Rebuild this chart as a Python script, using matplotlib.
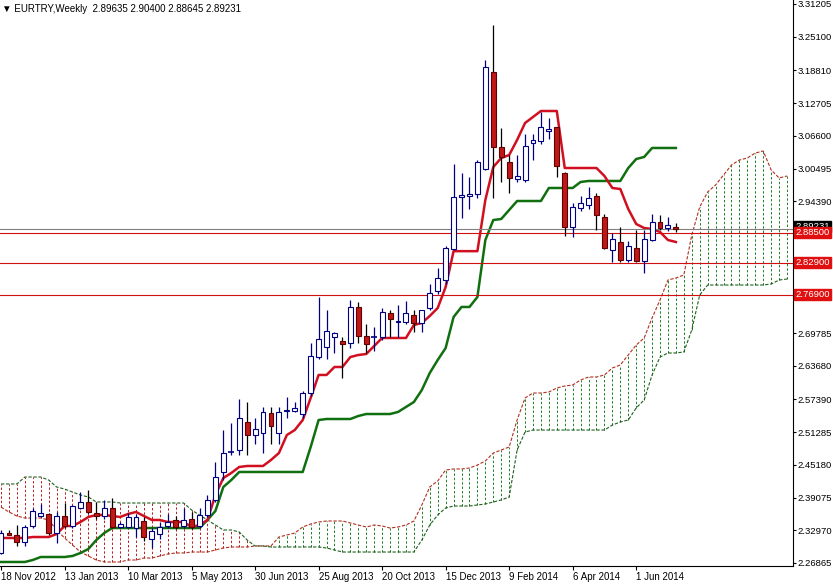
import matplotlib
matplotlib.use("Agg")
import matplotlib.pyplot as plt

plt.rcParams["font.family"] = ["Liberation Sans", "DejaVu Sans"]

# weekly EURTRY candles, first bar = week of 18 Nov 2012
opens = [2.288, 2.325, 2.321, 2.308, 2.338, 2.356, 2.360, 2.325, 2.356, 2.337,
         2.371, 2.382, 2.362, 2.356, 2.371, 2.336, 2.336, 2.334, 2.347, 2.313,
         2.323, 2.338, 2.349, 2.338, 2.351, 2.338, 2.358, 2.386, 2.438, 2.474,
         2.480, 2.532, 2.507, 2.511, 2.548, 2.511, 2.553, 2.552, 2.547, 2.586,
         2.653, 2.672, 2.691, 2.683, 2.679, 2.746, 2.692, 2.689, 2.691, 2.735,
         2.718, 2.718, 2.731, 2.716, 2.745, 2.776, 2.797, 2.855, 2.952, 2.953,
         2.957, 3.004, 3.185, 3.045, 3.017, 2.985, 2.984, 3.052, 3.056, 3.075,
         3.082, 2.997, 2.896, 2.931, 2.937, 2.953, 2.914, 2.853, 2.868, 2.834,
         2.857, 2.832, 2.871, 2.905, 2.893, 2.89635]
highs = [2.330, 2.330, 2.340, 2.340, 2.371, 2.379, 2.362, 2.364, 2.380, 2.377,
         2.401, 2.405, 2.382, 2.386, 2.390, 2.345, 2.362, 2.360, 2.354, 2.334,
         2.345, 2.360, 2.356, 2.371, 2.364, 2.371, 2.395, 2.457, 2.517, 2.530,
         2.575, 2.570, 2.540, 2.560, 2.560, 2.560, 2.578, 2.570, 2.590, 2.680,
         2.765, 2.740, 2.700, 2.690, 2.760, 2.755, 2.715, 2.710, 2.745, 2.740,
         2.750, 2.757, 2.740, 2.740, 2.790, 2.820, 2.860, 3.013, 2.997, 2.990,
         3.020, 3.207, 3.273, 3.080, 3.030, 3.030, 3.070, 3.070, 3.110, 3.100,
         3.082, 2.998, 2.940, 2.953, 2.970, 2.960, 2.920, 2.885, 2.895, 2.870,
         2.890, 2.890, 2.920, 2.918, 2.915, 2.90400]
lows = [2.285, 2.320, 2.300, 2.300, 2.334, 2.354, 2.320, 2.306, 2.334, 2.334,
        2.370, 2.360, 2.350, 2.350, 2.334, 2.334, 2.334, 2.317, 2.310, 2.297,
        2.313, 2.334, 2.332, 2.334, 2.332, 2.334, 2.354, 2.382, 2.424, 2.470,
        2.470, 2.470, 2.490, 2.474, 2.490, 2.490, 2.540, 2.550, 2.540, 2.580,
        2.650, 2.650, 2.660, 2.614, 2.670, 2.680, 2.660, 2.665, 2.685, 2.690,
        2.690, 2.715, 2.700, 2.700, 2.740, 2.770, 2.790, 2.853, 2.912, 2.930,
        2.950, 3.002, 2.950, 2.980, 2.960, 2.980, 2.980, 3.020, 3.050, 3.060,
        2.990, 2.879, 2.878, 2.925, 2.930, 2.890, 2.855, 2.830, 2.830, 2.830,
        2.830, 2.810, 2.870, 2.890, 2.889, 2.88645]
closes = [2.325, 2.321, 2.308, 2.336, 2.366, 2.362, 2.325, 2.356, 2.337, 2.375,
          2.382, 2.364, 2.356, 2.371, 2.336, 2.341, 2.354, 2.354, 2.317, 2.328,
          2.336, 2.345, 2.336, 2.349, 2.336, 2.358, 2.386, 2.429, 2.474, 2.476,
          2.539, 2.507, 2.519, 2.550, 2.524, 2.550, 2.555, 2.558, 2.586, 2.655,
          2.687, 2.702, 2.698, 2.677, 2.746, 2.692, 2.677, 2.691, 2.737, 2.724,
          2.720, 2.735, 2.716, 2.740, 2.773, 2.800, 2.857, 2.952, 2.955, 2.957,
          3.017, 3.194, 3.045, 3.026, 2.987, 2.991, 3.047, 3.058, 3.082, 3.079,
          3.010, 2.896, 2.933, 2.940, 2.950, 2.918, 2.857, 2.873, 2.834, 2.860,
          2.832, 2.873, 2.905, 2.894, 2.900, 2.89231]

tenkan = [2.3153, 2.3153, 2.3153, 2.3153, 2.3171, 2.3171, 2.3171, 2.3227, 2.3377, 2.3377,
          2.3451, 2.3545, 2.3582, 2.3582, 2.3563, 2.3545, 2.3601, 2.3638, 2.3563, 2.3489,
          2.3489, 2.3451, 2.3451, 2.3451, 2.3358, 2.3395, 2.3489, 2.3955, 2.4273, 2.4366,
          2.4478, 2.4497, 2.4497, 2.4497, 2.4609, 2.4739, 2.5075, 2.5169, 2.5355, 2.5766,
          2.6196, 2.6196, 2.6345, 2.6345, 2.6531, 2.6569, 2.6587, 2.6737, 2.6886, 2.6886,
          2.6886, 2.6886, 2.7129, 2.7166, 2.7297, 2.7446, 2.7838, 2.8507, 2.8507, 2.8507,
          2.8507, 2.9462, 3.0078, 3.0246, 3.0302, 3.0582, 3.0899, 3.1011, 3.1123, 3.1123,
          3.1123, 3.0059, 3.0059, 3.0059, 3.0059, 3.0059, 2.9910, 2.9686, 2.9667, 2.9294,
          2.9014, 2.8939, 2.8921, 2.8865, 2.8715, 2.8678]
kijun = [2.2705, 2.2705, 2.2705, 2.2705, 2.2742, 2.2798, 2.2798, 2.2798, 2.2798, 2.2817,
         2.2873, 2.2947, 2.3115, 2.3246, 2.3339, 2.3339, 2.3339, 2.3339, 2.3339, 2.3339,
         2.3339, 2.3339, 2.3339, 2.3339, 2.3339, 2.3339, 2.3489, 2.3657, 2.4105, 2.4235,
         2.4385, 2.4385, 2.4385, 2.4385, 2.4385, 2.4385, 2.4385, 2.4385, 2.4385, 2.4851,
         2.5355, 2.5374, 2.5374, 2.5374, 2.5374, 2.5430, 2.5467, 2.5467, 2.5467, 2.5467,
         2.5505, 2.5598, 2.5691, 2.5915, 2.6233, 2.6475, 2.6699, 2.7278, 2.7465, 2.7465,
         2.7651, 2.8715, 2.9088, 2.9107, 2.9275, 2.9443, 2.9443, 2.9443, 2.9443, 2.9686,
         2.9686, 2.9686, 2.9686, 2.9798, 2.9817, 2.9817, 2.9817, 2.9817, 2.9817, 3.0059,
         3.0227, 3.0265, 3.0433, 3.0433, 3.0433, 3.0433]

# cloud, already shifted 26 bars ahead
span_a = [2.3731, 2.3638, 2.3563, 2.3526, 2.3526, 2.3526, 2.3489, 2.3302, 2.3153, 2.3022,
          2.2891, 2.2817, 2.2742, 2.2705, 2.2705, 2.2705, 2.2742, 2.2742, 2.2779, 2.2779,
          2.2817, 2.2854, 2.2873, 2.2873, 2.2891, 2.2891, 2.2891, 2.2929, 2.2966, 2.2985,
          2.2985, 2.2985, 2.3004, 2.3004, 2.3004, 2.3171, 2.3209, 2.3246, 2.3358, 2.3414,
          2.3451, 2.3470, 2.3470, 2.3470, 2.3433, 2.3395, 2.3358, 2.3395, 2.3377, 2.3339,
          2.3358, 2.3395, 2.3470, 2.3769, 2.4105, 2.4217, 2.4422, 2.4441, 2.4441, 2.4459,
          2.4515, 2.4590, 2.4739, 2.4795, 2.4851, 2.5355, 2.5766, 2.5859, 2.5859, 2.5878,
          2.5953, 2.5990, 2.6009, 2.6102, 2.6158, 2.6158, 2.6195, 2.6326, 2.6382, 2.6569,
          2.6755, 2.6886, 2.7259, 2.7595, 2.7968, 2.8006, 2.8062, 2.8808, 2.9331, 2.9611,
          2.9742, 2.9928, 3.0115, 3.0208, 3.0246, 3.0339, 3.0376, 3.0022, 2.9873, 2.9910]
span_b = [2.4161, 2.4161, 2.4161, 2.4291, 2.4291, 2.4291, 2.4235, 2.4105, 2.4067, 2.4011,
          2.3955, 2.3918, 2.3825, 2.3825, 2.3825, 2.3806, 2.3806, 2.3806, 2.3806, 2.3806,
          2.3806, 2.3806, 2.3806, 2.3806, 2.3675, 2.3582, 2.3489, 2.3395, 2.3302, 2.3302,
          2.3265, 2.3115, 2.3004, 2.3004, 2.2985, 2.2985, 2.2985, 2.2985, 2.2985, 2.2985,
          2.2985, 2.2966, 2.2929, 2.2891, 2.2891, 2.2891, 2.2891, 2.2891, 2.2891, 2.2891,
          2.2891, 2.2891, 2.2891, 2.3115, 2.3395, 2.3582, 2.3713, 2.3750, 2.3750, 2.3750,
          2.3769, 2.3787, 2.3825, 2.3862, 2.3918, 2.4795, 2.5131, 2.5168, 2.5168, 2.5168,
          2.5168, 2.5168, 2.5168, 2.5168, 2.5168, 2.5168, 2.5168, 2.5262, 2.5318, 2.5355,
          2.5579, 2.5728, 2.6195, 2.6531, 2.6606, 2.6606, 2.6625, 2.7035, 2.7688, 2.7875,
          2.7875, 2.7875, 2.7875, 2.7875, 2.7875, 2.7875, 2.7875, 2.7894, 2.7968, 2.7987]

levels = [2.885, 2.829, 2.769]
last_price = 2.89231
date_labels = ["18 Nov 2012", "13 Jan 2013", "10 Mar 2013", "5 May 2013", "30 Jun 2013",
               "25 Aug 2013", "20 Oct 2013", "15 Dec 2013", "9 Feb 2014", "6 Apr 2014",
               "1 Jun 2014"]
price_ticks = [3.31205, 3.25100, 3.18810, 3.12705, 3.06600, 3.00495, 2.94390,
               2.69785, 2.63680, 2.57390, 2.51285, 2.45180, 2.39075, 2.32970, 2.26865]

fig = plt.figure(figsize=(8.33, 5.84), dpi=100)
ax = fig.add_axes([0.0, 18 / 584, 793 / 833, 1 - 18 / 584])

# cloud hatch + borders
for i, (a, b) in enumerate(zip(span_a, span_b)):
    col = "#208020" if a > b else "#c02020"
    ax.vlines(i, min(a, b), max(a, b), colors=col, linestyles=(0, (2.5, 2)), linewidth=0.7)
ax.plot(range(len(span_a)), span_a, color="#b03020", lw=0.8, ls=(0, (3, 1.5)))
ax.plot(range(len(span_b)), span_b, color="#206020", lw=0.8, ls=(0, (3, 1.5)))

# kijun / tenkan
ax.plot(range(len(kijun)), kijun, color="#107010", lw=1.8)
ax.plot(range(len(tenkan)), tenkan, color="#d01020", lw=1.8)

# candles
for i, (o, h, l, c) in enumerate(zip(opens, highs, lows, closes)):
    up = c >= o
    wick = "#000080" if up else "#000000"
    ax.vlines(i, l, h, colors=wick, linewidth=0.9, zorder=3)
    lo, hi = min(o, c), max(o, c)
    if hi - lo < 0.002:
        ax.hlines((o + c) / 2, i - 0.35, i + 0.35, colors=wick, linewidth=1.2, zorder=4)
    else:
        ax.bar(i, hi - lo, bottom=lo, width=0.62,
               facecolor="white" if up else "#c01818",
               edgecolor="#000080" if up else "#600000", linewidth=0.8, zorder=4)

# support/resistance lines
for lv in levels:
    ax.axhline(lv, color="#d01010", lw=0.8, zorder=2)
ax.axhline(last_price, color="#808080", lw=0.8, zorder=2)

ax.set_xlim(-0.13, 99.75)
ax.set_ylim(2.263, 3.3195)

ax.yaxis.tick_right()
ax.set_yticks(price_ticks)
ax.set_yticklabels([f"{t:.5f}" for t in price_ticks])
ax.tick_params(axis="y", labelsize=6.8, length=2.5, pad=1)
ax.set_xticks(range(0, 81, 8))
ax.set_xticklabels(date_labels, ha="left")
ax.tick_params(axis="x", labelsize=7, length=3, pad=1)
for s in ["left", "top"]:
    ax.spines[s].set_visible(False)
ax.spines["right"].set_linewidth(0.8)
ax.spines["bottom"].set_linewidth(0.8)

# price boxes on the right axis
trans = ax.get_yaxis_transform()
ax.text(1.003, last_price + 0.004, f"{last_price:.5f}", transform=trans, fontsize=6.8,
        color="white", va="center", ha="left",
        bbox=dict(boxstyle="square,pad=0.1", fc="black", ec="black"), clip_on=False)
for lv in levels:
    ax.text(1.003, lv, f"{lv:.5f}", transform=trans, fontsize=6.8, color="white",
            va="center", ha="left",
            bbox=dict(boxstyle="square,pad=0.1", fc="#e01010", ec="#e01010"), clip_on=False)

fig.text(0.003, 0.993, "\u25bc EURTRY,Weekly  2.89635 2.90400 2.88645 2.89231",
         fontsize=7, va="top", ha="left")

fig.savefig("out.png", dpi=100)
